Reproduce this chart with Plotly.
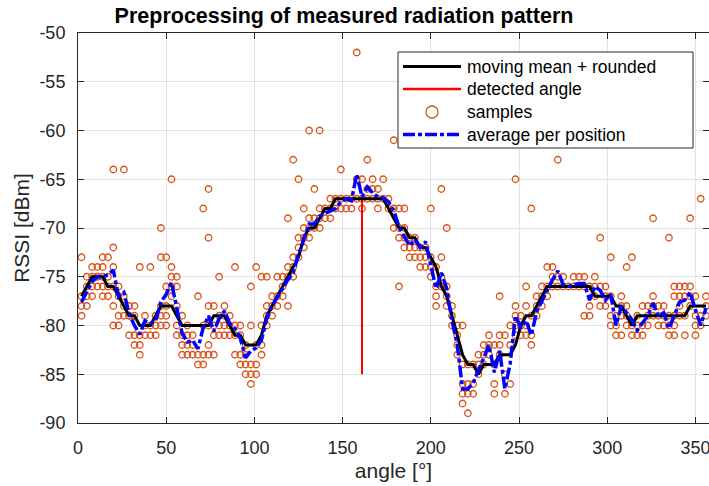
import plotly.graph_objects as go

# ---------------- data ----------------
angles = [2, 5, 8, 11, 14, 17, 20, 23, 26, 29,
          32, 35, 38, 41, 44, 47, 50, 53, 56, 59,
          62, 65, 68, 71, 74, 77, 80, 83, 86, 89,
          92, 95, 98, 101, 104, 107, 110, 113, 116, 119,
          122, 125, 128, 131, 134, 137, 140, 143, 146, 149,
          152, 155, 158, 161, 164, 167, 170, 173, 176, 179,
          182, 185, 188, 191, 194, 197, 200, 203, 206, 209,
          212, 215, 218, 221, 224, 227, 230, 233, 236, 239,
          242, 245, 248, 251, 254, 257, 260, 263, 266, 269,
          272, 275, 278, 281, 284, 287, 290, 293, 296, 299,
          302, 305, 308, 311, 314, 317, 320, 323, 326, 329,
          332, 335, 338, 341, 344, 347, 350, 353, 356]

moving_mean_rounded = [-77, -76, -75, -75, -75, -76, -76, -77, -78, -79,
                       -79, -80, -80, -80, -79, -78, -78, -78, -79, -80,
                       -80, -80, -80, -80, -80, -79, -79, -79, -80, -81,
                       -81, -82, -82, -82, -81, -79, -78, -77, -76, -75,
                       -74, -73, -71, -70, -70, -69, -68, -68, -67, -67,
                       -67, -67, -67, -67, -67, -67, -67, -67, -68, -69,
                       -70, -70, -71, -71, -72, -72, -73, -74, -76, -77,
                       -79, -81, -83, -84, -84, -85, -84, -84, -84, -83,
                       -83, -83, -82, -80, -79, -79, -78, -77, -76, -76,
                       -76, -76, -76, -76, -76, -76, -76, -77, -77, -77,
                       -77, -78, -78, -79, -80, -79, -79, -79, -79, -79,
                       -79, -79, -79, -79, -79, -78, -78, -78, -78]

average_per_position = [-77.6, -76.5, -75.5, -75.0, -75.0, -74.8, -74.3, -77.0, -76.6, -78.8,
                        -80.0, -80.9, -79.5, -79.8, -79.5, -77.6, -76.8, -75.6, -78.1, -80.8,
                        -81.7, -81.5, -82.4, -80.2, -79.0, -80.6, -79.3, -78.5, -79.8, -80.3,
                        -81.3, -83.3, -82.6, -82.3, -81.5, -79.3, -78.0, -77.1, -76.3, -75.3,
                        -74.6, -72.7, -71.2, -69.6, -69.6, -68.8, -68.5, -68.2, -68.0, -67.3,
                        -67.0, -67.2, -64.5, -66.8, -65.8, -66.4, -66.8, -66.9, -67.3, -68.2,
                        -69.9, -70.9, -71.8, -71.2, -72.0, -71.4, -73.8, -76.2, -74.6, -76.2,
                        -79.5, -82.0, -86.5, -86.5, -85.9, -84.6, -83.2, -82.0, -84.8, -82.6,
                        -86.5, -83.9, -79.0, -80.2, -79.5, -81.0, -78.6, -77.5, -76.2, -75.3,
                        -74.4, -75.8, -76.0, -75.8, -75.7, -75.7, -77.4, -76.0, -76.4, -77.4,
                        -76.8, -80.0, -78.0, -78.7, -79.4, -80.5, -79.8, -79.0, -77.7, -79.1,
                        -78.7, -80.3, -79.0, -77.6, -77.4, -76.6, -78.4, -80.0, -78.2]

samples_per_position = [
    [-73, -77, -78, -79], [-75, -76, -77, -78], [-74, -75, -76, -77], [-74, -75, -75, -76],
    [-73, -74, -75, -76, -77], [-73, -75, -76, -77], [-64, -72, -74, -76, -78, -80],
    [-76, -77, -79, -80], [-64, -77, -78, -79], [-78, -79, -81, -79],
    [-78, -79, -81, -82], [-74, -81, -82, -83], [-79, -80, -81], [-74, -80, -81],
    [-79, -80, -81], [-70, -73, -78, -79, -80], [-73, -76, -78, -79, -80],
    [-65, -74, -75, -76, -77], [-75, -76, -78, -80, -81], [-79, -81, -82, -83],
    [-80, -81, -82, -83], [-81, -82, -83], [-77, -83, -84], [-68, -80, -83, -84],
    [-66, -71, -78, -80, -82, -83], [-78, -80, -81, -83], [-75, -79, -80, -81],
    [-78, -79, -80, -81], [-79, -80, -81], [-74, -80, -81, -83],
    [-80, -81, -83, -84], [-82, -83, -84, -85], [-76, -80, -84, -85, -86],
    [-74, -82, -84, -85], [-75, -80, -82, -83], [-75, -78, -79, -80],
    [-77, -78, -79], [-75, -77, -78], [-75, -76, -77], [-69, -74, -75, -78],
    [-63, -73, -74, -75], [-65, -71, -72, -73], [-68, -70, -71, -72], [-60, -69, -70, -71],
    [-66, -69, -70], [-60, -68, -69, -70], [-68, -69], [-67, -68, -69], [-67, -68],
    [-64, -67, -68], [-67, -68], [-67, -68], [-52, -65, -67], [-65, -67, -68],
    [-63, -66, -67], [-65, -66, -67], [-66, -67, -68], [-65, -67], [-67, -68],
    [-61, -68, -70], [-68, -70, -71, -76], [-68, -70, -71, -72], [-71, -72, -73],
    [-71, -72, -73], [-72, -73, -74], [-72, -73, -74], [-68, -73, -74, -75],
    [-74, -76, -77, -78], [-66, -73, -75, -76], [-70, -76, -77, -78], [-78, -79, -80],
    [-80, -81, -82, -83], [-80, -84, -86, -87, -88], [-84, -86, -87, -89], [-84, -86, -87],
    [-83, -84, -85], [-82, -83, -84], [-81, -82, -83], [-82, -84, -86, -87],
    [-77, -81, -82, -83], [-81, -85, -87], [-80, -82, -86], [-65, -78, -79, -80, -81],
    [-79, -80, -81], [-76, -78, -80, -81], [-68, -79, -81, -82], [-77, -78, -79],
    [-76, -77, -78], [-74, -76, -77], [-74, -75, -76], [-63, -75, -76], [-75, -76],
    [-76], [-75, -76], [-75, -76], [-75, -76, -79], [-76, -78, -79], [-75, -76, -77],
    [-71, -76, -78], [-76, -77, -78], [-73, -77, -79, -80], [-79, -80, -81],
    [-77, -78, -79, -81], [-74, -78, -79, -80], [-73, -80, -81], [-79, -80, -81],
    [-78, -80, -81], [-78, -79, -80], [-69, -77, -78, -79], [-78, -79, -80],
    [-78, -79, -80], [-71, -79, -80, -81], [-76, -77, -79, -80, -81], [-76, -77, -78, -79],
    [-76, -77, -79, -81], [-69, -76, -77, -78], [-77, -79, -80, -81], [-67, -79, -80],
    [-77, -78, -79]]

detected_angle = 161
detected_span = [-85, -67]

x_ticks = [0, 50, 100, 150, 200, 250, 300, 350]
y_ticks = [-90, -85, -80, -75, -70, -65, -60, -55, -50]
y_ticktext = ["-90", "-85", "-80", "-75", "-70", "-65", "-60", "-55", "-50"]

legend_labels = ["moving mean + rounded", "detected angle", "samples", "average per position"]

assert len(angles) == len(moving_mean_rounded) == len(average_per_position) == len(samples_per_position)

sample_x = [a for a, s in zip(angles, samples_per_position) for _ in s]
sample_y = [v for s in samples_per_position for v in s]

# ---------------- styles ----------------
FONT = "Liberation Sans, Arial, Helvetica, sans-serif"
AX = "#262626"
C_SAMPLE = "#D95319"
C_MEAN = "#000000"
C_DET = "#FF0000"
C_AVG = "#0000FF"
AVG_DASH = "12px,3px,4px,3px"

fig = go.Figure()
fig.add_trace(go.Scatter(
    x=sample_x, y=sample_y, mode="markers", name=legend_labels[2], showlegend=False,
    marker=dict(symbol="circle-open", size=6.5, color=C_SAMPLE, line=dict(width=1.3, color=C_SAMPLE))))
fig.add_trace(go.Scatter(
    x=[detected_angle, detected_angle], y=detected_span, mode="lines", name=legend_labels[1],
    showlegend=False, line=dict(color=C_DET, width=2)))
fig.add_trace(go.Scatter(
    x=angles, y=moving_mean_rounded, mode="lines", name=legend_labels[0],
    showlegend=False, line=dict(color=C_MEAN, width=3)))
fig.add_trace(go.Scatter(
    x=angles, y=average_per_position, mode="lines", name=legend_labels[3],
    showlegend=False, line=dict(color=C_AVG, width=3.5, dash=AVG_DASH)))

L, R, T, B = 78, 0, 33, 63
W, H = 709, 486
pw, ph = W - L - R, H - T - B

def px_x(p):
    return (p - L) / pw

def px_y(p):
    return (H - B - p) / ph

# ---- legend box drawn in MATLAB style ----
shapes = [dict(type="rect", xref="paper", yref="paper",
               x0=px_x(398), x1=px_x(693), y0=px_y(148), y1=px_y(52),
               fillcolor="white", line=dict(color=AX, width=1), layer="above")]
rows_y = [66.5, 89, 112, 134.5]
line_styles = [dict(color=C_MEAN, width=3), dict(color=C_DET, width=2.5), None,
               dict(color=C_AVG, width=3.5, dash=AVG_DASH)]
annotations = []
for lab, ry, ls in zip(legend_labels, rows_y, line_styles):
    if ls is not None:
        shapes.append(dict(type="line", xref="paper", yref="paper",
                           x0=px_x(403), x1=px_x(461), y0=px_y(ry), y1=px_y(ry),
                           line=ls, layer="above"))
    else:
        shapes.append(dict(type="circle", xref="paper", yref="paper",
                           xsizemode="pixel", ysizemode="pixel",
                           xanchor=px_x(432), yanchor=px_y(ry),
                           x0=-6, x1=6, y0=-6, y1=6,
                           line=dict(color=C_SAMPLE, width=1.3), layer="above"))
    annotations.append(dict(text=lab, xref="paper", yref="paper", x=px_x(465), y=px_y(ry),
                            xanchor="left", yanchor="middle", showarrow=False,
                            font=dict(family=FONT, size=17.5, color="#000000")))

fig.update_layout(
    width=W, height=H,
    margin=dict(l=L, r=R, t=T, b=B, pad=0),
    paper_bgcolor="white", plot_bgcolor="white",
    font=dict(family=FONT, color=AX, size=18),
    title=dict(text="<b>Preprocessing of measured radiation pattern</b>",
               x=344 / W, xref="container", xanchor="center",
               y=1 - 15 / H, yref="container", yanchor="middle",
               font=dict(family=FONT, size=21.5, color="#000000")),
    showlegend=False,
    shapes=shapes,
    annotations=annotations,
    xaxis=dict(range=[0, 357.7], tickvals=x_ticks, ticks="inside", ticklen=6,
               tickcolor=AX, showline=True, linecolor=AX, linewidth=1, mirror="ticks",
               showgrid=True, gridcolor="#E3E3E3", gridwidth=1, zeroline=False,
               ticklabelstandoff=8, ticklabeloverflow="allow",
               title=dict(text="angle [°]", font=dict(size=21, color=AX), standoff=6)),
    yaxis=dict(range=[-90, -50], tickvals=y_ticks, ticktext=y_ticktext, ticks="inside",
               ticklen=6, tickcolor=AX, showline=True, linecolor=AX, linewidth=1,
               mirror="ticks", showgrid=True, gridcolor="#E3E3E3", gridwidth=1,
               zeroline=False, ticklabelstandoff=8,
               title=dict(text="RSSI [dBm]", font=dict(size=21, color=AX), standoff=4)),
)

fig.write_html("out.html")
